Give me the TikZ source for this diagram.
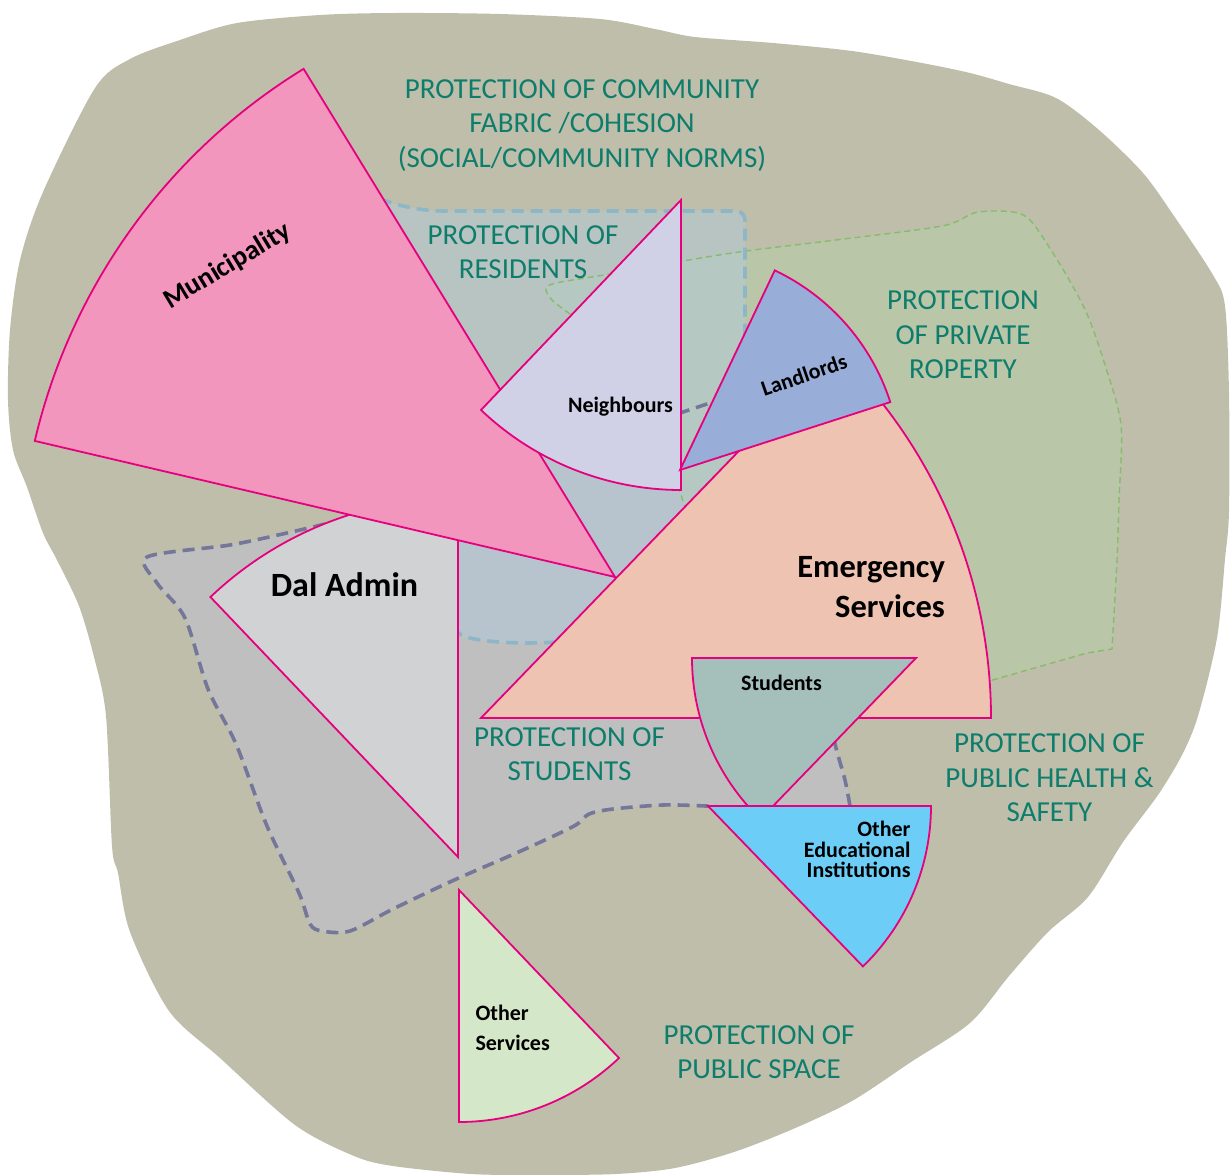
\documentclass[tikz,border=0pt]{standalone}
\usepackage{fontspec}
\setmainfont{Carlito}
\definecolor{beige}{HTML}{BFBEAB}
\definecolor{grayreg}{HTML}{BFBFBF}
\definecolor{greenreg}{HTML}{BAC6A8}
\definecolor{bluereg}{HTML}{B0CCE0}
\definecolor{grayedge}{HTML}{74769A}
\definecolor{blueedge}{HTML}{8DB6C6}
\definecolor{greenedge}{HTML}{86BC6C}
\definecolor{tealtext}{HTML}{0E7D6C}
\definecolor{mag}{HTML}{E6007E}
\definecolor{muni}{HTML}{F396BE}
\definecolor{daladm}{HTML}{D1D2D4}
\definecolor{neigh}{HTML}{D0D1E6}
\definecolor{landl}{HTML}{98ADD7}
\definecolor{emerg}{HTML}{EFC3B1}
\definecolor{stud}{HTML}{A5BFBB}
\definecolor{othered}{HTML}{6CCEF6}
\definecolor{othserv}{HTML}{D5E7C9}
\begin{document}
\begin{tikzpicture}[x=1pt,y=1pt,
  sector/.style={draw=mag,line width=1.8pt,line join=miter},
  graydash/.style={draw=grayedge,line width=3.6pt,dash pattern=on 12pt off 7pt},
  bluedash/.style={draw=blueedge,line width=3.6pt,dash pattern=on 12pt off 7pt},
  greendash/.style={draw=greenedge,line width=1.4pt,dash pattern=on 6pt off 4pt},
  prot/.style={inner sep=0pt,outer sep=0pt,text=tealtext,anchor=base,font=\fontsize{29}{34}\selectfont},
  lab/.style={inner sep=0pt,outer sep=0pt,text=black},
  small/.style={lab,font=\bfseries\fontsize{22}{22}\selectfont}]
\useasboundingbox (0,0) rectangle (1232,-1175);

% background blob
\fill[beige] plot[smooth cycle,tension=0.5] coordinates {
 (130,-59) (180,-40) (237,-23) (320,-15) (395,-13) (500,-14) (600,-19) (655,-29)
 (695,-37) (773,-43) (852,-51) (922,-63) (970,-73) (1009,-84) (1056,-98) (1099,-130)
 (1143,-173) (1174,-216) (1213,-275) (1225,-306) (1229,-393) (1229,-511) (1225,-559)
 (1217,-638) (1198,-716) (1182,-755) (1158,-795) (1123,-842) (1088,-897) (1048,-932)
 (1009,-976) (970,-1023) (911,-1062) (852,-1101) (793,-1129) (734,-1152) (675,-1168)
 (616,-1174) (540,-1175) (471,-1174) (393,-1166) (354,-1156) (295,-1125) (220,-1058)
 (169,-1011) (130,-932) (118,-873) (112,-846) (106,-716) (94,-657) (79,-606) (57,-560)
 (43,-533) (27,-487) (13,-450) (8,-400) (10,-330) (20,-260) (43,-192) (95,-88)};

% protection of students region (grey)
\fill[grayreg] plot[smooth,tension=0.5] coordinates {
 (325,-524) (287,-533) (230,-545) (147,-557) (157,-583) (185,-618) (208,-689) (236,-744)
 (267,-826) (299,-893) (310,-924) (322,-931) (350,-931) (393,-909) (452,-881) (523,-850)
 (574,-826) (589,-814) (613,-809) (663,-805) (706,-806) (720,-807)}
 -- (852,-808) -- (845,-780) -- (836,-748) -- (830,-720) -- (850,-550) -- (790,-425)
 -- (735,-395) -- (710,-403) -- (683,-412) -- (660,-420) -- (550,-440) -- (420,-470) -- cycle;

% protection of private property region (green)
\fill[greenreg] plot[smooth,tension=0.5] coordinates {
 (570,-314) (552,-300) (546,-289) (556,-283) (610,-274) (683,-261) (746,-251) (836,-240)
 (942,-226) (974,-213) (1000,-211) (1021,-214) (1035,-226) (1064,-271) (1087,-314)
 (1105,-365) (1121,-425) (1119,-500) (1117,-559) (1112,-649)}
 -- (1087,-653) -- (989,-681) -- (900,-650) -- (760,-560) -- (686,-510) -- (678,-486)
 -- (600,-390) -- cycle;

% protection of residents region (blue, translucent)
\fill[bluereg,fill opacity=0.45] (380,-199) .. controls (400,-206) and (420,-211) .. (445,-211)
 -- (736,-211) arc[start angle=90,end angle=0,radius=9] -- (745,-640) -- (556,-642)
 .. controls (530,-644) and (490,-643) .. (470,-638)
 .. controls (462,-636) and (458,-633) .. (455,-630) -- (440,-600) -- (400,-300) -- cycle;

% dashed borders
\draw[graydash] plot[smooth,tension=0.5] coordinates {
 (325,-524) (287,-533) (230,-545) (147,-557) (157,-583) (185,-618) (208,-689) (236,-744)
 (267,-826) (299,-893) (310,-924) (322,-931) (350,-931) (393,-909) (452,-881) (523,-850)
 (574,-826) (589,-814) (613,-809) (663,-805) (706,-806) (720,-807)};
\draw[graydash] plot[smooth] coordinates {(830,-720) (836,-748) (845,-780) (850,-806)};
\draw[graydash] (660,-420) -- (683,-412) -- (710,-403) -- (735,-395);
\draw[greendash] plot[smooth,tension=0.5] coordinates {
 (570,-314) (552,-300) (546,-289) (556,-283) (610,-274) (683,-261) (746,-251) (836,-240)
 (942,-226) (974,-213) (1000,-211) (1021,-214) (1035,-226) (1064,-271) (1087,-314)
 (1105,-365) (1121,-425) (1119,-500) (1117,-559) (1112,-649)}
 -- (1087,-653) -- (989,-681);
\draw[greendash] (678,-486) -- (686,-510);
\draw[bluedash] (380,-199) .. controls (400,-206) and (420,-211) .. (445,-211)
 -- (736,-211) arc[start angle=90,end angle=0,radius=9] -- (745,-340);
\draw[bluedash] (556,-642) .. controls (530,-644) and (490,-643) .. (470,-638)
 .. controls (462,-636) and (458,-633) .. (455,-630);

% sectors
\coordinate (dA) at (458,-857);
\coordinate (mA) at (615,-577);
\coordinate (nA) at (681,-200);
\coordinate (eA) at (481,-718);
\coordinate (lA) at (680,-470);
\coordinate (sA) at (916,-658);
\coordinate (oA) at (708,-806);
\coordinate (pA) at (459,-890);

\path[sector,fill=daladm] (dA) -- ++(90:359) arc[start angle=90,end angle=133.6,radius=359] -- cycle;
\path[sector,fill=muni] (mA) -- ++(121.5:596) arc[start angle=121.5,end angle=166.8,radius=596] -- cycle;
\path[sector,fill=neigh] (nA) -- ++(226.4:290) arc[start angle=226.4,end angle=270,radius=290] -- cycle;
\path[sector,fill=emerg] (eA) -- ++(0:510) arc[start angle=0,end angle=46,radius=510] -- cycle;
\path[sector,fill=landl] (lA) -- ++(17.9:221) arc[start angle=17.9,end angle=64.6,radius=221] -- cycle;
\path[sector,fill=stud] (sA) -- ++(180:224) arc[start angle=180,end angle=226,radius=224] -- cycle;
\path[sector,fill=othered] (oA) -- ++(0:223) arc[start angle=0,end angle=-46,radius=223] -- cycle;
\path[sector,fill=othserv] (pA) -- ++(270:232) arc[start angle=270,end angle=313.6,radius=232] -- cycle;

% area labels
\node[prot] (c1) at (582,-98.2) {PROTECTION OF COMMUNITY};
\node[prot] (c2) at (582,-132.8) {FABRIC /COHESION};
\node[prot] (c3) at (582,-167) {(SOCIAL/COMMUNITY NORMS)};
\node[prot] (r1) at (523,-244.5) {PROTECTION OF};
\node[prot] (r2) at (523,-278.5) {RESIDENTS};
\node[prot] (p1) at (963,-309.6) {PROTECTION};
\node[prot] (p2) at (963,-344.2) {OF PRIVATE};
\node[prot] (p3) at (963,-378) {ROPERTY};
\node[prot] (s1) at (569.5,-746.8) {PROTECTION OF};
\node[prot] (s2) at (569.5,-780.7) {STUDENTS};
\node[prot] (h1) at (1049.5,-752.7) {PROTECTION OF};
\node[prot] (h2) at (1049.5,-787.3) {PUBLIC HEALTH \&};
\node[prot] (h3) at (1049.5,-821.5) {SAFETY};
\node[prot] (q1) at (759,-1044.3) {PROTECTION OF};
\node[prot] (q2) at (759,-1078.5) {PUBLIC SPACE};

% actor labels
\node[lab,font=\bfseries\fontsize{27.5}{27.5}\selectfont,rotate=31] (muniL) at (227.5,-266) {Municipality};
\node[lab,font=\bfseries\fontsize{22}{22}\selectfont,rotate=19] (landL) at (804,-375) {Landlords};
\node[small,anchor=base] (neighL) at (620.5,-412) {Neighbours};
\node[lab,anchor=base,font=\bfseries\fontsize{34}{34}\selectfont] (dalL) at (344.5,-596.3) {Dal Admin};
\node[lab,anchor=base east,font=\bfseries\fontsize{32.5}{32.5}\selectfont] (emL1) at (945,-577) {Emergency};
\node[lab,anchor=base east,font=\bfseries\fontsize{32.5}{32.5}\selectfont] (emL2) at (945,-617) {Services};
\node[small,anchor=base] (studL) at (781.5,-690.6) {Students};
\node[small,anchor=base east] (oeL1) at (910.5,-836) {Other};
\node[small,anchor=base east] (oeL2) at (910.5,-857.6) {Educational};
\node[small,anchor=base east] (oeL3) at (910.5,-877.3) {Institutions};
\node[small,anchor=base west] (osL1) at (475.5,-1020.7) {Other};
\node[small,anchor=base west] (osL2) at (475.5,-1050.2) {Services};
\end{tikzpicture}
\end{document}
